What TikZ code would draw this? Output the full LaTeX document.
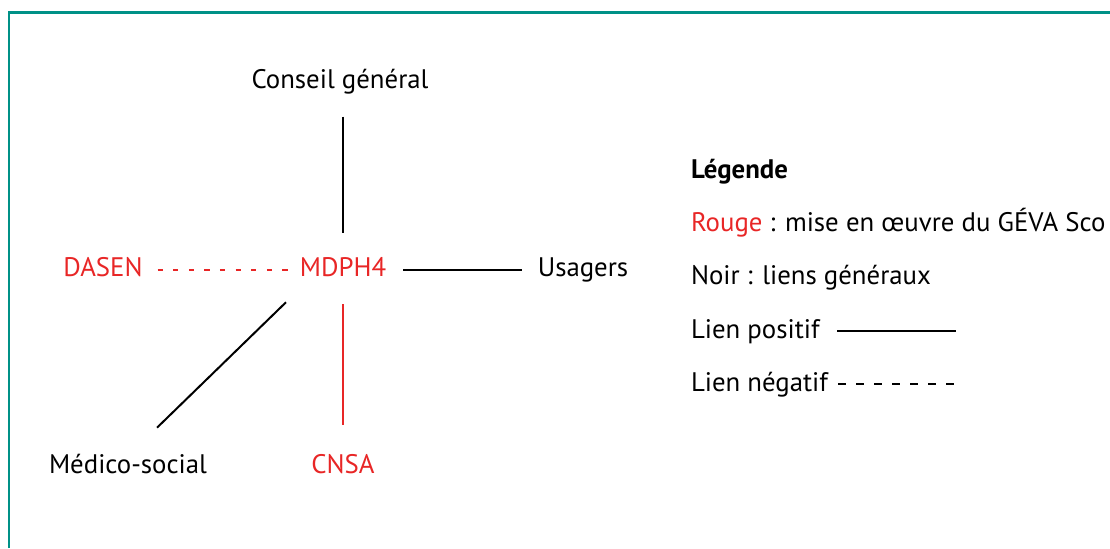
\documentclass[tikz,border=0pt]{standalone}
\usepackage{fontspec}
\setmainfont{PT Sans}
\definecolor{rouge}{RGB}{232,38,38}
\definecolor{cadre}{RGB}{0,145,135}

\begin{document}
\begin{tikzpicture}[x=0.5pt,y=-0.5pt,
every node/.style={inner sep=0,outer sep=0,font=\fontsize{13.4}{16}\selectfont},
acteur/.style={anchor=base},
geva/.style={text=rouge},
legende/.style={anchor=base west},
positif/.style={line width=1pt},
negatif/.style={line width=1pt,dash pattern=on 2.6pt off 5.2pt}
]
\useasboundingbox (0,0) rectangle (1110,548);
\draw[cadre,line width=1.1pt] (9,548) -- (9,12.5) -- (1110,12.5);

% acteurs
\node[acteur] (cg) at (340,88) {Conseil général};
\node[acteur,geva] (mdph) at (343,276) {MDPH4};
\node[acteur,geva] (dasen) at (103,276) {DASEN};
\node[acteur] (usagers) at (583,276) {Usagers};
\node[acteur] (medico) at (128,473) {Médico-social};
\node[acteur,geva] (cnsa) at (343,473) {CNSA};

% liens
\draw[positif,shorten <=11.5pt,shorten >=12pt] (cg.south -| mdph.north) -- (mdph.north);
\draw[negatif,rouge,shorten <=7.5pt,shorten >=5pt] ([yshift=3pt]dasen.base east) -- ([yshift=3pt]mdph.base west);
\draw[positif,shorten <=8.5pt,shorten >=8pt] ([yshift=3pt]mdph.base east) -- ([yshift=3pt]usagers.base west);
\draw[positif] ([shift={(-57,26)}]mdph.south) -- ([shift={(29,-26)}]medico.north);
\draw[positif,rouge,shorten <=14pt,shorten >=14.5pt] (mdph.south) -- (cnsa.north);

% legende
\node[legende,font=\fontsize{13.4}{16}\selectfont\bfseries] (leg) at (691,178) {Légende};
\node[legende] (rouge) at (691,231) {\textcolor{rouge}{Rouge} : mise en œuvre du GÉVA Sco};
\node[legende] (noir) at (691,284) {Noir : liens généraux};
\node[legende] (pos) at (691,338) {Lien positif};
\node[legende] (neg) at (691,391) {Lien négatif};
\coordinate (posfin) at (956,331);
\coordinate (negfin) at (958,384);
\draw[positif] (837,0 |- posfin) -- (posfin);
\draw[line width=1pt,dash pattern=on 4pt off 5pt] (838,0 |- negfin) -- (negfin);
\end{tikzpicture}
\end{document}
